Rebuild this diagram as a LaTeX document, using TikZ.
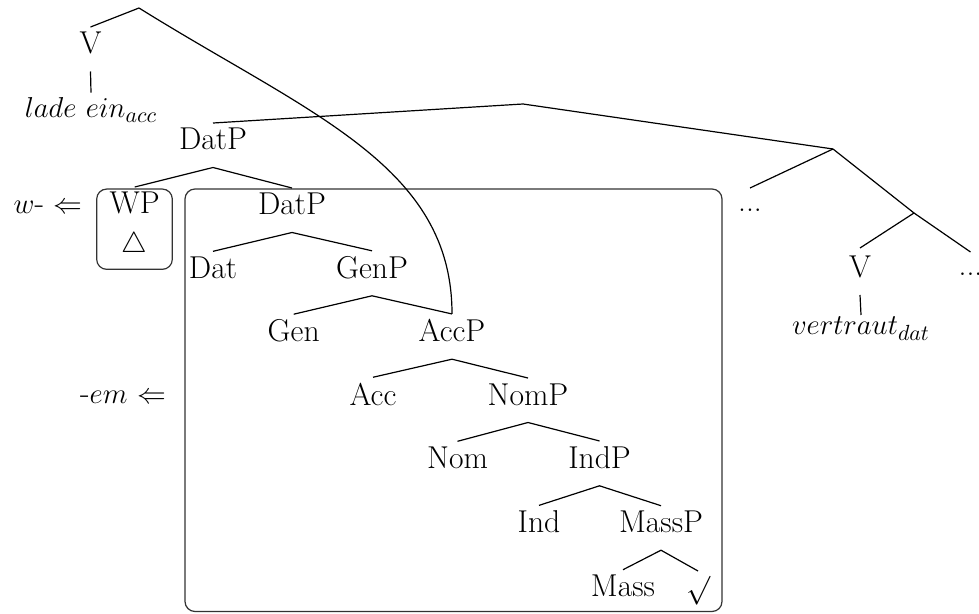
\documentclass[tikz,border=0pt]{standalone}
\usetikzlibrary{calc}
\begin{document}
\begin{tikzpicture}[x=0.5pt,y=-0.5pt,
  lbl/.style={anchor=base,inner sep=2.5pt,font=\fontsize{15.8}{19}\selectfont},
  frame/.style={draw=black!80,line width=0.6pt,rounded corners=5pt,inner sep=0pt},
  branch/.style={line width=0.6pt,line join=miter},
  down/.style={yshift=-8.75pt}]
\clip (0,0) rectangle (979,614);

% boxes around the moved phrase and the spelled-out part
\node[frame,minimum width=37.8pt,minimum height=40.15pt] (wpbox) at (134.5,229.2) {};
\node[frame,minimum width=268.5pt,minimum height=211.25pt] (bigbox) at (453.5,400.25) {};

% branching points without labels
\coordinate (top) at (139,8);
\coordinate (mid) at (523,104);
\coordinate (vp) at (833,149);
\coordinate (vbar) at (914,213);

% labels
\node[lbl] (vL) at (90.5,54) {V};
\node[lbl] (lade) at (91,118) {$lade$ $ein_{acc}$};
\node[lbl] (datpA) at (213,150) {DatP};
\node[lbl] (wp) at (134.7,214) {WP};
\node[lbl] (tri) at (134,253) {$\triangle$};
\node[lbl] (datpB) at (292,215) {DatP};
\node[lbl] (dat) at (213,278.3) {Dat};
\node[lbl] (genp) at (372,278.3) {GenP};
\node[lbl] (gen) at (293.7,341.7) {Gen};
\node[lbl] (accp) at (452,341.7) {AccP};
\node[lbl] (acc) at (373,405) {Acc};
\node[lbl] (nomp) at (528,405) {NomP};
\node[lbl] (nom) at (457.5,468.3) {Nom};
\node[lbl] (indp) at (599.5,468.3) {IndP};
\node[lbl] (ind) at (539,532.7) {Ind};
\node[lbl] (massp) at (661,532.7) {MassP};
\node[lbl] (mass) at (623,596.7) {Mass};
\node[lbl,anchor=north] (root) at (698,571) {$\surd$};
\node[lbl] (dotsL) at (750,212) {...};
\node[lbl] (vR) at (860,278) {V};
\node[lbl] (vertraut) at (861,335) {$vertraut_{dat}$};
\node[lbl] (dotsR) at (970.5,276) {...};
\node[lbl] (wlab) at (48,213.3) {$w$- $\Leftarrow$};
\node[lbl] (emlab) at (123,403.3) {-$em$ $\Leftarrow$};

% upper tree
\draw[branch] (vL.north) -- (top);
\draw[branch] (top) .. controls (309,114) and (452,165) .. (accp.north);
\draw[branch] ([down]vL.base) -- (lade.north);
\draw[branch] (datpA.north) -- (mid) -- (vp);
\draw[branch] (vp) -- ([yshift=12pt]dotsL.base);
\draw[branch] (vp) -- (vbar);
\draw[branch] ([yshift=15pt]vR.base) -- (vbar) -- ([yshift=12pt]dotsR.base);
\draw[branch] ([yshift=-8.5pt]vR.base) -- ([yshift=10pt]vertraut.base);

% spine of the case sequence
\draw[branch] (wp.north) -- ([down]datpA.base) -- (datpB.north);
\draw[branch] (dat.north) -- ([down]datpB.base) -- (genp.north);
\draw[branch] (gen.north) -- ([down]genp.base) -- (accp.north);
\draw[branch] (acc.north) -- ([down]accp.base) -- (nomp.north);
\draw[branch] (nom.north) -- ([down]nomp.base) -- (indp.north);
\draw[branch] (ind.north) -- ([down]indp.base) -- (massp.north);
\draw[branch] (mass.north) -- ([down]massp.base) -- (root.north);
\end{tikzpicture}
\end{document}
